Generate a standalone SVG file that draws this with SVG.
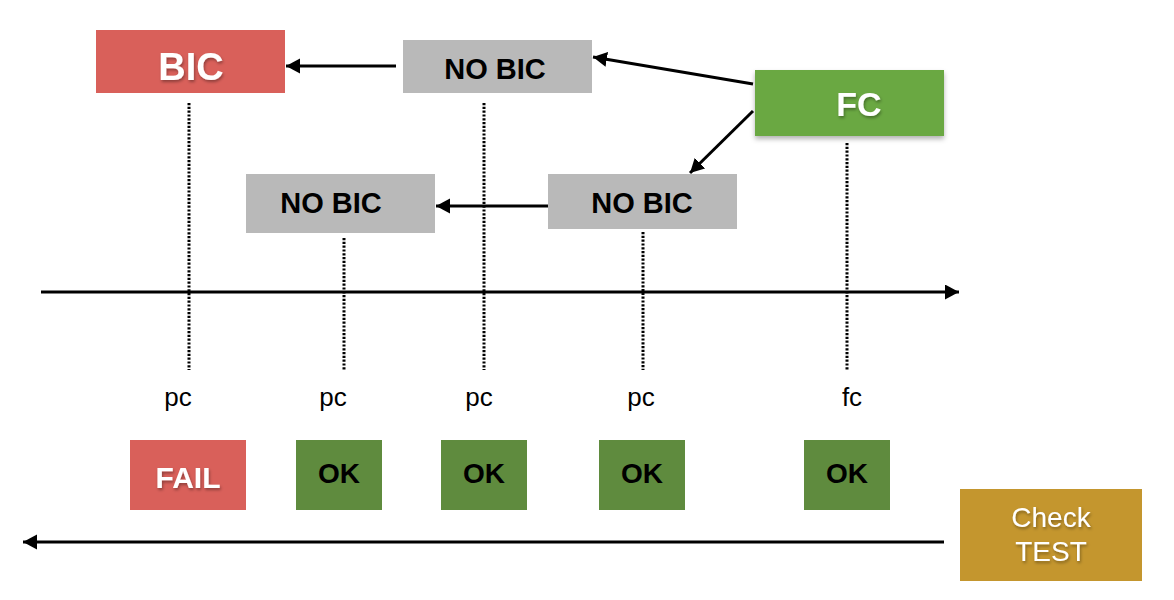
<svg xmlns="http://www.w3.org/2000/svg" width="1174" height="600" viewBox="0 0 1174 600">
<style>
  .t { font-family: "Liberation Sans", Arial, sans-serif; text-anchor: middle; }
  .b { font-weight: bold; }
  .w { fill: #ffffff; }
  .k { fill: #000000; }
  .red { fill: #d9605a; }
  .gray { fill: #b9b9b9; }
  .fc { fill: #6aa842; }
  .ok { fill: #5f8b3e; }
  .gold { fill: #c4962e; }
  .arrow { stroke: #000; stroke-width: 3; fill: none; marker-end: url(#ah); }
  .dot { stroke: #000; stroke-width: 3; stroke-dasharray: 2.2 1.6; fill: none; }
</style>
<defs>
  <marker id="ah" markerUnits="userSpaceOnUse" markerWidth="16" markerHeight="16" refX="14" refY="7.5" orient="auto" viewBox="0 0 16 16">
    <path d="M0,0 L14,7.5 L0,15 z" fill="#000"/>
  </marker>
  <filter id="ts" x="-20%" y="-20%" width="140%" height="160%">
    <feDropShadow dx="1" dy="2" stdDeviation="1.5" flood-color="#000" flood-opacity="0.35"/>
  </filter>
  <filter id="bs" x="-10%" y="-10%" width="120%" height="130%">
    <feDropShadow dx="0" dy="3" stdDeviation="2.5" flood-color="#000" flood-opacity="0.3"/>
  </filter>
</defs>
<rect width="1174" height="600" fill="#ffffff"/>

<g id="connectors">
  <line class="dot" x1="189" y1="103" x2="189" y2="370"/>
  <line class="dot" x1="484" y1="103" x2="484" y2="370"/>
  <line class="dot" x1="344" y1="238" x2="344" y2="370"/>
  <line class="dot" x1="643" y1="232" x2="643" y2="370"/>
  <line class="dot" x1="847" y1="143" x2="847" y2="370"/>
  <line class="arrow" x1="41" y1="292" x2="959" y2="292"/>
  <line class="arrow" x1="944" y1="542" x2="23" y2="542"/>
  <line class="arrow" x1="396" y1="66" x2="286" y2="66"/>
  <line class="arrow" x1="548" y1="206" x2="436" y2="206"/>
  <line class="arrow" x1="753" y1="84" x2="593" y2="57"/>
  <line class="arrow" x1="753" y1="111" x2="690" y2="173"/>
</g>

<g id="bic">
  <rect class="red" x="96" y="30" width="189" height="63"/>
  <text class="t b w" x="191" y="80" font-size="38" filter="url(#ts)">BIC</text>
</g>
<g id="nobic-top">
  <rect class="gray" x="403" y="40" width="189" height="53"/>
  <text class="t b k" x="495" y="79" font-size="29">NO BIC</text>
</g>
<g id="fc">
  <rect class="fc" x="755" y="70" width="189" height="66" filter="url(#bs)"/>
  <text class="t b w" x="859" y="116" font-size="34" filter="url(#ts)">FC</text>
</g>
<g id="nobic-left">
  <rect class="gray" x="246" y="174" width="189" height="59"/>
  <text class="t b k" x="331" y="213" font-size="29">NO BIC</text>
</g>
<g id="nobic-right">
  <rect class="gray" x="548" y="174" width="189" height="55"/>
  <text class="t b k" x="642" y="213" font-size="29">NO BIC</text>
</g>

<g id="labels">
  <text class="t k" x="178" y="406" font-size="26">pc</text>
  <text class="t k" x="333" y="406" font-size="26">pc</text>
  <text class="t k" x="479" y="406" font-size="26">pc</text>
  <text class="t k" x="641" y="406" font-size="26">pc</text>
  <text class="t k" x="852" y="406" font-size="26">fc</text>
</g>

<g id="fail">
  <rect class="red" x="130" y="440" width="116" height="70"/>
  <text class="t b w" x="188" y="488" font-size="30" filter="url(#ts)">FAIL</text>
</g>
<g id="ok1">
  <rect class="ok" x="296" y="440" width="86" height="70"/>
  <text class="t b k" x="339" y="483" font-size="28">OK</text>
</g>
<g id="ok2">
  <rect class="ok" x="441" y="440" width="86" height="70"/>
  <text class="t b k" x="484" y="483" font-size="28">OK</text>
</g>
<g id="ok3">
  <rect class="ok" x="599" y="440" width="86" height="70"/>
  <text class="t b k" x="642" y="483" font-size="28">OK</text>
</g>
<g id="ok4">
  <rect class="ok" x="804" y="440" width="86" height="70"/>
  <text class="t b k" x="847" y="483" font-size="28">OK</text>
</g>
<g id="check">
  <rect class="gold" x="960" y="489" width="182" height="92"/>
  <text class="t w" x="1051" y="527" font-size="28" filter="url(#ts)">Check</text>
  <text class="t w" x="1051" y="561" font-size="28" filter="url(#ts)">TEST</text>
</g>
</svg>
